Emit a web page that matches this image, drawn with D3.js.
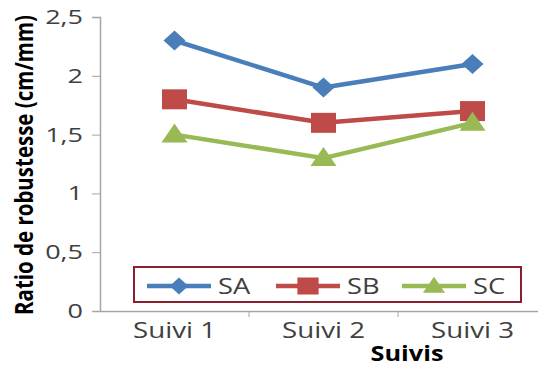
<!DOCTYPE html>
<html>
<head>
<meta charset="utf-8">
<script src="https://cdn.jsdelivr.net/npm/d3@7"></script>
<style>
  html, body { margin: 0; padding: 0; background: #fff; }
  svg { display: block; }
  text { font-family: "Open Sans", "Liberation Sans", sans-serif; }
</style>
</head>
<body>
<svg id="chart" width="538" height="368"></svg>
<script>
// Robustness ratio per follow-up visit, one series per group
const categories = ["Suivi 1", "Suivi 2", "Suivi 3"];
const seriesNames = ["SA", "SB", "SC"];
const valuesSA = [2.3, 1.9, 2.1];
const valuesSB = [1.8, 1.6, 1.7];
const valuesSC = [1.5, 1.3, 1.6];
const yTicks = [0, 0.5, 1, 1.5, 2, 2.5];
const yTickLabels = ["0", "0,5", "1", "1,5", "2", "2,5"];

const colors = { SA: "#4A7EBB", SB: "#BE4B48", SC: "#98B954" };
const shapes = ["diamond", "square", "triangle"];
const series = seriesNames.map((name, i) => ({
  name, values: [valuesSA, valuesSB, valuesSC][i], shape: shapes[i]
}));

const svg = d3.select("#chart");
const plotLeft = 100, plotRight = 547, plotTop = 17, plotBottom = 311;

const x = d3.scaleBand().domain(categories).range([plotLeft, plotRight]);
const y = d3.scaleLinear().domain([0, 2.5]).range([plotBottom, plotTop]);

// marker outlines, slightly wider than tall
function markerPath(shape) {
  if (shape === "diamond") return "M-11,0L0,-10L11,0L0,10Z";
  if (shape === "square") return "M-12.5,-10L12.5,-10L12.5,10L-12.5,10Z";
  return "M0,-11L13,8L-13,8Z";
}

// y axis (labels drawn with wide glyphs)
const ySx = 1.35;
const yAxis = svg.append("g")
  .attr("transform", `translate(${plotLeft},0)`)
  .call(d3.axisLeft(y).tickValues(yTicks)
    .tickFormat((d, i) => yTickLabels[i]).tickSizeOuter(0).tickSize(8).tickPadding(9));
yAxis.select(".domain").attr("stroke", "#a6a6a6").attr("stroke-width", 1.5);
yAxis.selectAll(".tick line").attr("stroke", "#a6a6a6").attr("stroke-width", 1);
yAxis.selectAll(".tick text").attr("font-size", 20).attr("fill", "#404040")
  .attr("x", -17 / ySx).attr("transform", `scale(${ySx},1)`);

// x axis
const xAxis = svg.append("g")
  .attr("transform", `translate(0,${plotBottom})`)
  .call(d3.axisBottom(x).tickSize(0).tickPadding(11).tickSizeOuter(0));
xAxis.select(".domain").attr("stroke", "#a6a6a6").attr("stroke-width", 1.5);
xAxis.selectAll(".tick line").remove();
xAxis.selectAll(".tick text").attr("font-size", 22).attr("fill", "#404040")
  .attr("transform", "scale(1.26,1)");
// category separators
xAxis.selectAll(".sep").data(categories.slice(1)).enter().append("line")
  .attr("x1", d => x(d)).attr("x2", d => x(d)).attr("y1", 0).attr("y2", 6)
  .attr("stroke", "#a6a6a6");

// lines and markers
const line = d3.line().x((d, i) => x(categories[i]) + x.bandwidth() / 2).y(d => y(d));
series.forEach(s => {
  svg.append("path").datum(s.values).attr("d", line)
    .attr("fill", "none").attr("stroke", colors[s.name]).attr("stroke-width", 4.5)
    .attr("stroke-linejoin", "round");
  svg.selectAll(".m" + s.name).data(s.values).enter().append("path")
    .attr("d", markerPath(s.shape))
    .attr("transform", (d, i) => `translate(${x(categories[i]) + x.bandwidth() / 2},${y(d)})`)
    .attr("fill", colors[s.name]);
});

// axis titles
svg.append("text").attr("transform", "translate(33,165) rotate(-90) scale(1,1.3)")
  .attr("text-anchor", "middle").attr("font-size", 19).attr("font-weight", "bold")
  .attr("fill", "#000").attr("textLength", 300).attr("lengthAdjust", "spacingAndGlyphs")
  .text("Ratio de robustesse (cm/mm)");
svg.append("text").attr("transform", "translate(407,361) scale(1.15,1)")
  .attr("text-anchor", "middle").attr("font-size", 22).attr("font-weight", "bold")
  .attr("fill", "#000").text("Suivis");

// legend
const legend = svg.append("g");
legend.append("rect").attr("x", 134).attr("y", 267).attr("width", 387).attr("height", 35)
  .attr("fill", "#fff").attr("stroke", "#8B1F2F").attr("stroke-width", 2);
const legendX = [147, 276, 402];
series.forEach((s, i) => {
  const g = legend.append("g").attr("transform", `translate(${legendX[i]},286)`);
  g.append("line").attr("x1", 0).attr("x2", 64).attr("y1", 0).attr("y2", 0)
    .attr("stroke", colors[s.name]).attr("stroke-width", 4.5);
  g.append("path").attr("d", markerPath(s.shape)).attr("transform", "translate(32,0) scale(0.85)")
    .attr("fill", colors[s.name]);
  g.append("text").attr("transform", "translate(71,0) scale(1.3,1)").attr("dy", "0.36em")
    .attr("font-size", 21).attr("fill", "#404040").text(s.name);
});
</script>
</body>
</html>
